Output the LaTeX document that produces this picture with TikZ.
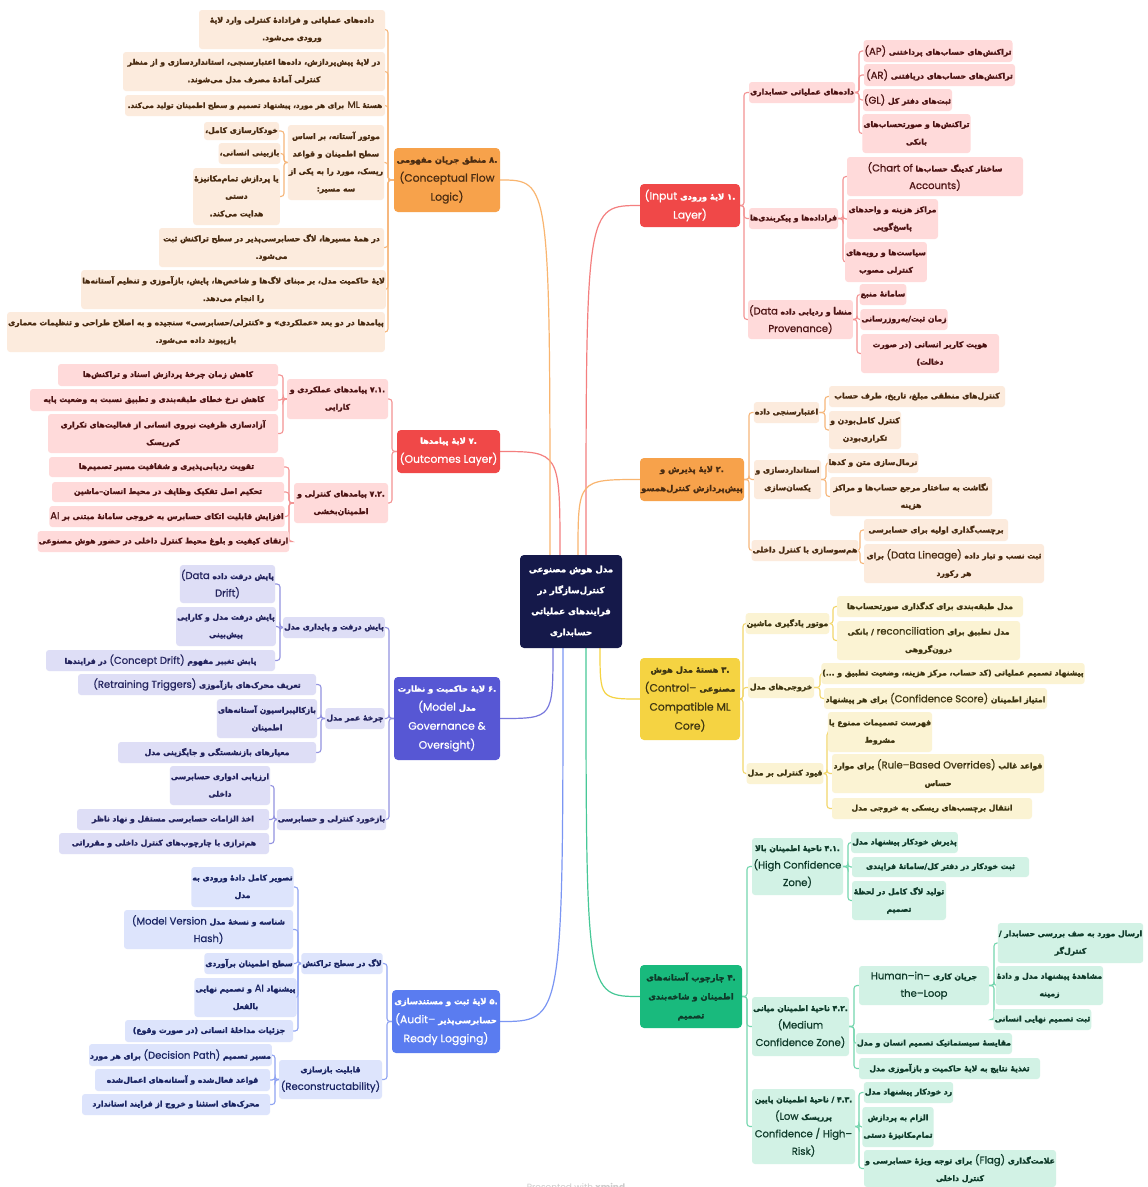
\documentclass[tikz,border=0pt]{standalone}
\usepackage{fontspec}
\TeXXeTstate=1
\newfontfamily\fafont[Script=Arabic,BoldFeatures={FakeBold=2.2}]{DejaVu Sans}
\newfontfamily\latf[Scale=1.3,FakeBold=0.7]{Poppins}
\newfontfamily\wmf{Poppins}
\newcommand\fa[1]{{\fafont\beginR #1\endR}}
\newcommand\en[1]{{\latf\mdseries #1}}
\newcommand\nm[1]{{\fafont #1}}
\newcommand\chfont{\fafont\bfseries\fontsize{7.7}{17.5}\selectfont}
\newcommand\hbfont{\fafont\bfseries\fontsize{8.3}{19}\selectfont}
\newcommand\ctfont{\fafont\bfseries\fontsize{8.6}{21}\selectfont}
\definecolor{rh}{HTML}{F04848}\definecolor{rc}{HTML}{FFDADA}\definecolor{rt}{HTML}{4D1414}\definecolor{rl}{HTML}{F39393}
\definecolor{oh}{HTML}{F7A24B}\definecolor{oc}{HTML}{FCEBDD}\definecolor{ot}{HTML}{4A2C12}\definecolor{ol}{HTML}{F6B67A}
\definecolor{yh}{HTML}{F5D342}\definecolor{yc}{HTML}{FBF3D3}\definecolor{yt}{HTML}{3F3612}\definecolor{yl}{HTML}{F2D66A}
\definecolor{gh}{HTML}{19BA7D}\definecolor{gc}{HTML}{D2F2E5}\definecolor{gt}{HTML}{0F3A2A}\definecolor{gl}{HTML}{74D6AE}
\definecolor{bh}{HTML}{5A7CF0}\definecolor{bc}{HTML}{DDE4FC}\definecolor{bt}{HTML}{1B2563}\definecolor{bl}{HTML}{8FA3F2}
\definecolor{ih}{HTML}{5757D4}\definecolor{ic}{HTML}{DEDEF6}\definecolor{it}{HTML}{24245E}\definecolor{il}{HTML}{9292E0}
\definecolor{ctr}{HTML}{15194A}
\pgfdeclarelayer{bgzero}\pgfdeclarelayer{bgone}\pgfsetlayers{bgzero,bgone,main}
\tikzset{
  nb/.style={rounded corners=3pt, align=center, inner sep=1pt, font=\chfont},
  hb/.style={rounded corners=4pt, align=center, inner sep=1pt, font=\hbfont},
  rch/.style={nb, fill=rc, text=rt}, och/.style={nb, fill=oc, text=ot},
  ych/.style={nb, fill=yc, text=yt}, gch/.style={nb, fill=gc, text=gt},
  bch/.style={nb, fill=bc, text=bt}, ich/.style={nb, fill=ic, text=it},
  rhub/.style={hb, fill=rh, text=white}, ohub/.style={hb, fill=oh, text=ot},
  yhub/.style={hb, fill=yh, text=yt}, ghub/.style={hb, fill=gh, text=gt},
  bhub/.style={hb, fill=bh, text=white}, ihub/.style={hb, fill=ih, text=white},
  ctrbox/.style={rounded corners=4pt, align=center, inner sep=1pt, font=\ctfont, fill=ctr, text=white},
  cn/.style={line width=1.1pt, rounded corners=3pt},
  rln/.style={cn, draw=rl}, oln/.style={cn, draw=ol}, yln/.style={cn, draw=yl},
  gln/.style={cn, draw=gl}, bln/.style={cn, draw=bl}, iln/.style={cn, draw=il},
  cv/.style={line width=1.2pt},
}
\newcommand\bx[7]{\node[#2,minimum width={#5-#3},minimum height={#6-#4}] (#1) at ({(#3+#5)/2},{(#4+#6)/2}) {#7};}
\newcommand\cR[4]{\draw[#4] (#1.east) -- (#1.east -| #3) |- (#2.west);}
\newcommand\cL[4]{\draw[#4] (#1.west) -- (#1.west -| #3) |- (#2.east);}
\begin{document}
\begin{tikzpicture}[x=1pt,y=-1pt]
\begin{pgfonlayer}{bgzero}
\fill[white] (0,0) rectangle (1148,1187);
\end{pgfonlayer}
\useasboundingbox (0,0) rectangle (1148,1187);
% center
\bx{c}{ctrbox}{520}{555}{622}{648}{\fa{مدل هوش مصنوعی}\\\fa{کنترل‌سازگار در}\\\fa{فرایندهای عملیاتی}\\\fa{حسابداری}}
% ---------- branch 1
\bx{h1}{rhub}{640}{184}{740}{227}{\en{(Input} \fa{لایهٔ ورودی} \nm{.۱}\\\en{Layer)}}
\bx{a1}{rch}{749}{82}{855}{103}{\fa{داده‌های عملیاتی حسابداری}}
\bx{a11}{rch}{864}{40}{1012}{62}{\en{(AP)} \fa{تراکنش‌های حساب‌های پرداختنی}}
\bx{a12}{rch}{864}{64}{1015}{86}{\en{(AR)} \fa{تراکنش‌های حساب‌های دریافتنی}}
\bx{a13}{rch}{864}{89}{951}{111}{\en{(GL)} \fa{ثبت‌های دفتر کل}}
\bx{a14}{rch}{864}{114}{969}{153}{\fa{تراکنش‌ها و صورتحساب‌های}\\\fa{بانکی}}
\bx{a2}{rch}{749}{208}{838}{229}{\fa{فراداده‌ها و پیکربندی‌ها}}
\bx{a21}{rch}{847}{157}{1023}{196}{\en{(Chart of} \fa{ساختار کدینگ حساب‌ها}\\\en{Accounts)}}
\bx{a22}{rch}{847}{199}{938}{239}{\fa{مراکز هزینه و واحدهای}\\\fa{پاسخ‌گویی}}
\bx{a23}{rch}{847}{242}{925}{282}{\fa{سیاست‌ها و رویه‌های}\\\fa{کنترلی مصوب}}
\bx{a3}{rch}{749}{300}{852}{339}{\en{(Data} \fa{منشأ و ردیابی داده}\\\en{Provenance)}}
\bx{a31}{rch}{861}{284}{905}{305}{\fa{سامانهٔ منبع}}
\bx{a32}{rch}{861}{309}{947}{330}{\fa{زمان ثبت/به‌روزرسانی}}
\bx{a33}{rch}{861}{334}{999}{373}{\fa{هویت کاربر انسانی (در صورت}\\\fa{دخالت)}}
% ---------- branch 2
\bx{h2}{ohub}{640}{458}{744}{501}{\fa{لایهٔ پذیرش و} \nm{.۲}\\\fa{پیش‌پردازش کنترل‌همسو}}
\bx{b1}{och}{754}{402}{819}{423}{\fa{اعتبارسنجی داده}}
\bx{b11}{och}{829}{386}{1005}{407}{\fa{کنترل‌های منطقی مبلغ، تاریخ، طرف حساب}}
\bx{b12}{och}{829}{411}{901}{449}{\fa{کنترل کامل‌بودن و}\\\fa{تکراری‌بودن}}
\bx{b2}{och}{754}{460}{821}{499}{\fa{استانداردسازی و}\\\fa{یکسان‌سازی}}
\bx{b21}{och}{830}{453}{916}{473}{\fa{نرمال‌سازی متن و کدها}}
\bx{b22}{och}{830}{477}{992}{516}{\fa{نگاشت به ساختار مرجع حساب‌ها و مراکز}\\\fa{هزینه}}
\bx{b3}{och}{755}{540}{855}{561}{\fa{هم‌سوسازی با کنترل داخلی}}
\bx{b31}{och}{864}{519}{1008}{541}{\fa{برچسب‌گذاری اولیه برای حسابرسی}}
\bx{b32}{och}{864}{544}{1044}{583}{\fa{برای} \en{(Data Lineage)} \fa{ثبت نسب و تبار داده}\\\fa{هر رکورد}}
% ---------- branch 3
\bx{h3}{yhub}{640}{658}{740}{740}{\fa{هستهٔ مدل هوش} \nm{.۳}\\\en{(Control–} \fa{مصنوعی}\\\en{Compatible ML}\\\en{Core)}}
\bx{y1}{ych}{748}{613}{827}{634}{\fa{موتور یادگیری ماشین}}
\bx{y11}{ych}{837}{596}{1023}{617}{\fa{مدل طبقه‌بندی برای کدگذاری صورتحساب‌ها}}
\bx{y12}{ych}{837}{621}{1020}{660}{\fa{بانکی} / \en{reconciliation} \fa{مدل تطبیق برای}\\\fa{درون‌گروهی}}
\bx{y2}{ych}{748}{677}{814}{698}{\fa{خروجی‌های مدل}}
\bx{y21}{ych}{824}{663}{1082}{684}{\fa{پیشنهاد تصمیم عملیاتی (کد حساب، مرکز هزینه، وضعیت تطبیق و ...)}}
\bx{y22}{ych}{824}{688}{1047}{709}{\fa{برای هر پیشنهاد} \en{(Confidence Score)} \fa{امتیاز اطمینان}}
\bx{y3}{ych}{748}{763}{822}{784}{\fa{قیود کنترلی بر مدل}}
\bx{y31}{ych}{832}{712}{928}{752}{\fa{فهرست تصمیمات ممنوع یا}\\\fa{مشروط}}
\bx{y32}{ych}{832}{754}{1044}{793}{\fa{برای موارد} \en{(Rule–Based Overrides)} \fa{قواعد غالب}\\\fa{حساس}}
\bx{y33}{ych}{832}{798}{1032}{819}{\fa{انتقال برچسب‌های ریسکی به خروجی مدل}}
% ---------- branch 4
\bx{h4}{ghub}{640}{965}{742}{1028}{\fa{چارچوب آستانه‌های} \nm{.۴}\\\fa{اطمینان و شاخه‌بندی}\\\fa{تصمیم}}
\bx{z1}{gch}{752}{838}{843}{895}{\fa{ناحیهٔ اطمینان بالا} \nm{.۴.۱}\\\en{(High Confidence}\\\en{Zone)}}
\bx{z11}{gch}{852}{832}{957}{853}{\fa{پذیرش خودکار پیشنهاد مدل}}
\bx{z12}{gch}{852}{857}{1029}{877}{\fa{ثبت خودکار در دفتر کل/سامانهٔ فرایندی}}
\bx{z13}{gch}{852}{881}{946}{920}{\fa{تولید لاگ کامل در لحظهٔ}\\\fa{تصمیم}}
\bx{z2}{gch}{752}{997}{849}{1056}{\fa{ناحیهٔ اطمینان میانی} \nm{.۴.۲}\\\en{(Medium}\\\en{Confidence Zone)}}
\bx{z21}{gch}{859}{966}{989}{1005}{\en{Human–in–} \fa{جریان کاری}\\\en{the–Loop}}
\bx{z211}{gch}{998}{923}{1143}{963}{\fa{ارسال مورد به صف بررسی حسابدار /}\\\fa{کنترل‌گر}}
\bx{z212}{gch}{998}{966}{1101}{1005}{\fa{مشاهدهٔ پیشنهاد مدل و دادهٔ}\\\fa{زمینه}}
\bx{z213}{gch}{998}{1009}{1087}{1030}{\fa{ثبت تصمیم نهایی انسانی}}
\bx{z22}{gch}{859}{1033}{1009}{1054}{\fa{مقایسهٔ سیستماتیک تصمیم انسان و مدل}}
\bx{z23}{gch}{859}{1058}{1040}{1079}{\fa{تغذیهٔ نتایج به لایهٔ حاکمیت و بازآموزی مدل}}
\bx{z3}{gch}{752}{1089}{855}{1164}{\fa{ناحیهٔ اطمینان پایین} / \nm{.۴.۳}\\\en{(Low} \fa{پرریسک}\\\en{Confidence / High–}\\\en{Risk)}}
\bx{z31}{gch}{864}{1082}{953}{1103}{\fa{رد خودکار پیشنهاد مدل}}
\bx{z32}{gch}{864}{1107}{932}{1147}{\fa{الزام به پردازش}\\\fa{تمام‌مکانیزهٔ دستی}}
\bx{z33}{gch}{864}{1150}{1056}{1187}{\fa{برای توجه ویژهٔ حسابرسی و} \en{(Flag)} \fa{علامت‌گذاری}\\\fa{کنترل داخلی}}
% ---------- branch 5
\bx{h5}{bhub}{392}{990}{500}{1053}{\fa{لایهٔ ثبت و مستندسازی} \nm{.۵}\\\en{(Audit–} \fa{حسابرسی‌پذیر}\\\en{Ready Logging)}}
\bx{l1}{bch}{302}{953}{382}{974}{\fa{لاگ در سطح تراکنش}}
\bx{l11}{bch}{192}{867}{293}{907}{\fa{تصویر کامل دادهٔ ورودی به}\\\fa{مدل}}
\bx{l12}{bch}{124}{910}{293}{949}{\en{(Model Version} \fa{شناسه و نسخهٔ مدل}\\\en{Hash)}}
\bx{l13}{bch}{205}{953}{293}{974}{\fa{سطح اطمینان برآوردی}}
\bx{l14}{bch}{198}{978}{293}{1017}{\fa{و تصمیم نهایی} \en{AI} \fa{پیشنهاد}\\\fa{بالفعل}}
\bx{l15}{bch}{125}{1020}{293}{1042}{\fa{جزئیات مداخلهٔ انسانی (در صورت وقوع)}}
\bx{l2}{bch}{279}{1060}{382}{1099}{\fa{قابلیت بازسازی}\\\en{(Reconstructability)}}
\bx{l21}{bch}{91}{1044}{270}{1066}{\fa{برای هر مورد} \en{(Decision Path)} \fa{مسیر تصمیم}}
\bx{l22}{bch}{95}{1069}{270}{1091}{\fa{قواعد فعال‌شده و آستانه‌های اعمال‌شده}}
\bx{l23}{bch}{82}{1094}{270}{1115}{\fa{محرک‌های استثنا و خروج از فرایند استاندارد}}
% ---------- branch 6
\bx{h6}{ihub}{394}{677}{500}{760}{\fa{لایهٔ حاکمیت و نظارت} \nm{.۶}\\\en{(Model} \fa{مدل}\\\en{Governance \&}\\\en{Oversight)}}
\bx{g1}{ich}{284}{617}{384}{638}{\fa{پایش درفت و پایداری مدل}}
\bx{g11}{ich}{180}{565}{275}{603}{\en{(Data} \fa{پایش درفت داده}\\\en{Drift)}}
\bx{g12}{ich}{177}{607}{275}{646}{\fa{پایش درفت مدل و کارایی}\\\fa{پیش‌بینی}}
\bx{g13}{ich}{46}{650}{275}{671}{\fa{در فرایندها} \en{(Concept Drift)} \fa{پایش تغییر مفهوم}}
\bx{g2}{ich}{326}{708}{384}{729}{\fa{چرخهٔ عمر مدل}}
\bx{g21}{ich}{78}{674}{316}{695}{\en{(Retraining Triggers)} \fa{تعریف محرک‌های بازآموزی}}
\bx{g22}{ich}{218}{699}{316}{738}{\fa{بازکالیبراسیون آستانه‌های}\\\fa{اطمینان}}
\bx{g23}{ich}{118}{742}{316}{763}{\fa{معیارهای بازنشستگی و جایگزینی مدل}}
\bx{g3}{ich}{279}{809}{384}{830}{\fa{بازخورد کنترلی و حسابرسی}}
\bx{g31}{ich}{171}{766}{269}{805}{\fa{ارزیابی ادواری حسابرسی}\\\fa{داخلی}}
\bx{g32}{ich}{77}{809}{269}{830}{\fa{اخذ الزامات حسابرسی مستقل و نهاد ناظر}}
\bx{g33}{ich}{59}{833}{269}{854}{\fa{هم‌ترازی با چارچوب‌های کنترل داخلی و مقرراتی}}
% ---------- branch 7
\bx{h7}{rhub}{397}{430}{500}{473}{\fa{لایهٔ پیامدها} \nm{.۷}\\\en{(Outcomes Layer)}}
\bx{o1}{rch}{287}{379}{388}{419}{\fa{پیامدهای عملکردی و} \nm{.۷.۱}\\\fa{کارایی}}
\bx{o11}{rch}{58}{364}{278}{386}{\fa{کاهش زمان چرخهٔ پردازش اسناد و تراکنش‌ها}}
\bx{o12}{rch}{30}{389}{278}{411}{\fa{کاهش نرخ خطای طبقه‌بندی و تطبیق نسبت به وضعیت پایه}}
\bx{o13}{rch}{48}{414}{278}{453}{\fa{آزادسازی ظرفیت نیروی انسانی از فعالیت‌های تکراری}\\\fa{کم‌ریسک}}
\bx{o2}{rch}{294}{483}{388}{523}{\fa{پیامدهای کنترلی و} \nm{.۷.۲}\\\fa{اطمینان‌بخشی}}
\bx{o21}{rch}{49}{457}{284}{477}{\fa{تقویت ردیابی‌پذیری و شفافیت مسیر تصمیم‌ها}}
\bx{o22}{rch}{52}{482}{284}{502}{\fa{تحکیم اصل تفکیک وظایف در محیط انسان–ماشین}}
\bx{o23}{rch}{50}{506}{284}{527}{\en{AI} \fa{افزایش قابلیت اتکای حسابرس به خروجی سامانهٔ مبتنی بر}}
\bx{o24}{rch}{43}{531}{284}{552}{\fa{ارتقای کیفیت و بلوغ محیط کنترل داخلی در حضور هوش مصنوعی}}
% ---------- branch 8
\bx{h8}{ohub}{394}{148}{500}{212}{\fa{منطق جریان مفهومی} \nm{.۸}\\\en{(Conceptual Flow}\\\en{Logic)}}
\bx{p1}{och}{199}{10}{385}{49}{\fa{داده‌های عملیاتی و فرادادهٔ کنترلی وارد لایهٔ}\\\fa{ورودی می‌شود.}}
\bx{p2}{och}{123}{52}{385}{91}{\fa{در لایهٔ پیش‌پردازش، داده‌ها اعتبارسنجی، استانداردسازی و از منظر}\\\fa{کنترلی آمادهٔ مصرف مدل می‌شوند.}}
\bx{p3}{och}{125}{95}{385}{116}{\fontsize{7.3}{17}\selectfont\fa{برای هر مورد، پیشنهاد تصمیم و سطح اطمینان تولید می‌کند.} \en{ML} \fa{هستهٔ}}
\bx{p4}{och}{288}{125}{384}{200}{\fa{موتور آستانه، بر اساس}\\\fa{سطح اطمینان و قواعد}\\\fa{ریسک، مورد را به یکی از}\\\fa{سه مسیر:}}
\bx{p41}{och}{204}{122}{279}{140}{\fa{خودکارسازی کامل،}}
\bx{p42}{och}{220}{143}{279}{164}{\fa{بازبینی انسانی،}}
\bx{p43}{och}{194}{168}{279}{225}{\fa{یا پردازش تمام‌مکانیزهٔ}\\\fa{دستی}\\\fa{هدایت می‌کند.}}
\bx{p5}{och}{159}{228}{384}{267}{\fa{در همهٔ مسیرها، لاگ حسابرسی‌پذیر در سطح تراکنش ثبت}\\\fa{می‌شود.}}
\bx{p6}{och}{83}{270}{384}{309}{\fa{لایهٔ حاکمیت مدل، بر مبنای لاگ‌ها و شاخص‌ها، پایش، بازآموزی و تنظیم آستانه‌ها}\\\fa{را انجام می‌دهد.}}
\bx{p7}{och}{8}{312}{384}{352}{\fa{پیامدها در دو بعد «عملکردی» و «کنترلی/حسابرسی» سنجیده و به اصلاح طراحی و تنظیمات معماری}\\\fa{بازپیوند داده می‌شود.}}
% watermark
\node[text=black!20, font=\wmf\fontsize{9}{9}\selectfont, anchor=north] (wm) at (576,1180) {Presented with \textbf{xmind}};
% ---------- connectors
\begin{pgfonlayer}{bgone}
\coordinate (s1) at (586,555); \coordinate (s2) at (578,555); \coordinate (s7) at (560,555); \coordinate (s8) at (550,555);
\coordinate (s3) at (600,648); \coordinate (s4) at (586,648); \coordinate (s5) at (563,648); \coordinate (s6) at (553,648);
\draw[cv,draw=rh!70] (s1) .. controls (s1 |- h1.west) .. (h1.west);
\draw[cv,draw=oh!80] (s2) .. controls (s2 |- h2.west) .. (h2.west);
\draw[cv,draw=yh] (s3) .. controls (s3 |- h3.west) .. (h3.west);
\draw[cv,draw=gh!80] (s4) .. controls (s4 |- h4.west) .. (h4.west);
\draw[cv,draw=bh!80] (s5) .. controls (s5 |- h5.east) .. (h5.east);
\draw[cv,draw=ih!80] (s6) .. controls (s6 |- h6.east) .. (h6.east);
\draw[cv,draw=rh!70] (s7) .. controls (s7 |- h7.east) .. (h7.east);
\draw[cv,draw=oh!80] (s8) .. controls (s8 |- h8.east) .. (h8.east);
% spines
\coordinate (x1) at (744,0); \coordinate (x11) at (859,0); \coordinate (x12) at (843,0); \coordinate (x13) at (857,0);
\coordinate (x2) at (749,0); \coordinate (x21) at (825,0); \coordinate (x22) at (826,0); \coordinate (x23) at (860,0);
\coordinate (x3) at (743,0); \coordinate (x31) at (833,0); \coordinate (x32) at (820,0); \coordinate (x33) at (827,0);
\coordinate (x4) at (747,0); \coordinate (x41) at (848,0); \coordinate (x42) at (854,0); \coordinate (x421) at (994,0); \coordinate (x43) at (859,0);
\coordinate (x5) at (387,0); \coordinate (x51) at (298,0); \coordinate (x52) at (275,0);
\coordinate (x6) at (389,0); \coordinate (x61) at (280,0); \coordinate (x62) at (321,0); \coordinate (x63) at (274,0);
\coordinate (x7) at (392,0); \coordinate (x71) at (283,0); \coordinate (x72) at (289,0);
\coordinate (x8) at (388,0); \coordinate (x84) at (284,0);
\foreach \c in {a1,a2,a3} {\cR{h1}{\c}{x1}{rln}}
\foreach \c in {a11,a12,a13,a14} {\cR{a1}{\c}{x11}{rln}}
\foreach \c in {a21,a22,a23} {\cR{a2}{\c}{x12}{rln}}
\foreach \c in {a31,a32,a33} {\cR{a3}{\c}{x13}{rln}}
\foreach \c in {b1,b2,b3} {\cR{h2}{\c}{x2}{oln}}
\foreach \c in {b11,b12} {\cR{b1}{\c}{x21}{oln}}
\foreach \c in {b21,b22} {\cR{b2}{\c}{x22}{oln}}
\foreach \c in {b31,b32} {\cR{b3}{\c}{x23}{oln}}
\foreach \c in {y1,y2,y3} {\cR{h3}{\c}{x3}{yln}}
\foreach \c in {y11,y12} {\cR{y1}{\c}{x31}{yln}}
\foreach \c in {y21,y22} {\cR{y2}{\c}{x32}{yln}}
\foreach \c in {y31,y32,y33} {\cR{y3}{\c}{x33}{yln}}
\foreach \c in {z1,z2,z3} {\cR{h4}{\c}{x4}{gln}}
\foreach \c in {z11,z12,z13} {\cR{z1}{\c}{x41}{gln}}
\foreach \c in {z21,z22,z23} {\cR{z2}{\c}{x42}{gln}}
\foreach \c in {z211,z212,z213} {\cR{z21}{\c}{x421}{gln}}
\foreach \c in {z31,z32,z33} {\cR{z3}{\c}{x43}{gln}}
\foreach \c in {l1,l2} {\cL{h5}{\c}{x5}{bln}}
\foreach \c in {l11,l12,l13,l14,l15} {\cL{l1}{\c}{x51}{bln}}
\foreach \c in {l21,l22,l23} {\cL{l2}{\c}{x52}{bln}}
\foreach \c in {g1,g2,g3} {\cL{h6}{\c}{x6}{iln}}
\foreach \c in {g11,g12,g13} {\cL{g1}{\c}{x61}{iln}}
\foreach \c in {g21,g22,g23} {\cL{g2}{\c}{x62}{iln}}
\foreach \c in {g31,g32,g33} {\cL{g3}{\c}{x63}{iln}}
\foreach \c in {o1,o2} {\cL{h7}{\c}{x7}{rln}}
\foreach \c in {o11,o12,o13} {\cL{o1}{\c}{x71}{rln}}
\foreach \c in {o21,o22,o23,o24} {\cL{o2}{\c}{x72}{rln}}
\foreach \c in {p1,p2,p3,p4,p5,p6,p7} {\cL{h8}{\c}{x8}{oln}}
\foreach \c in {p41,p42,p43} {\cL{p4}{\c}{x84}{oln}}
\end{pgfonlayer}
\end{tikzpicture}
\end{document}
